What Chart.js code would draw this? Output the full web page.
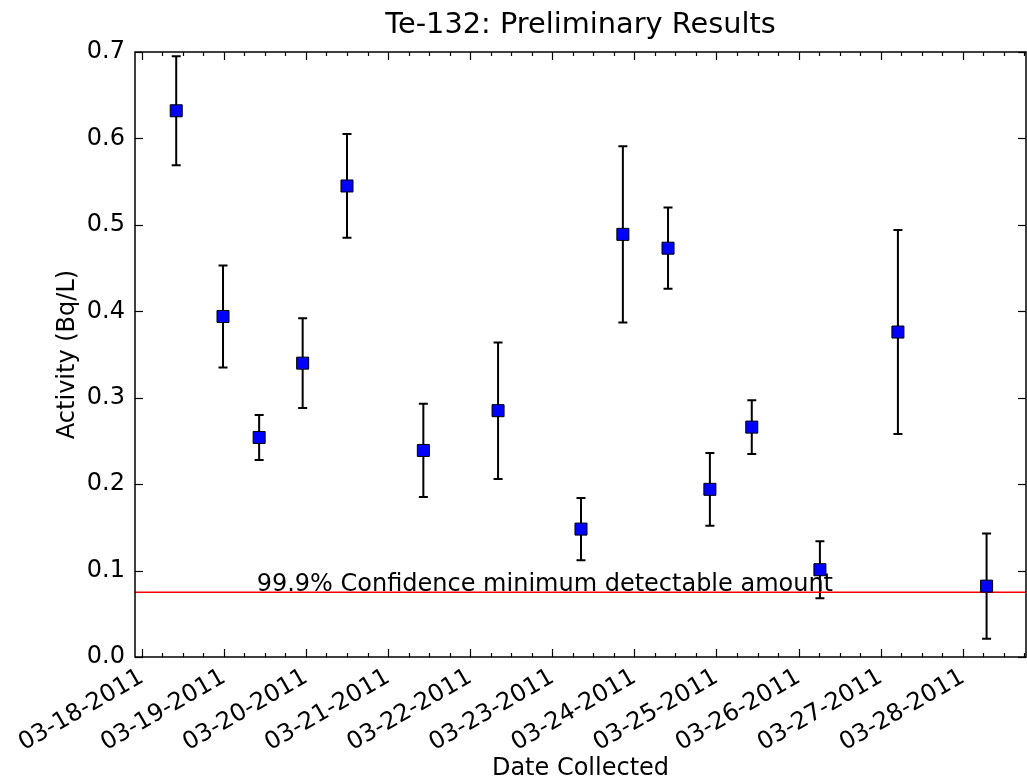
<!DOCTYPE html>
<html>
<head>
<meta charset="utf-8">
<title>Te-132: Preliminary Results</title>
<script src="https://cdn.jsdelivr.net/npm/chart.js@4.4.1/dist/chart.umd.min.js"></script>
<style>
  body { margin: 0; background: #fff; }
  #wrap { width: 1027px; height: 778px; }
</style>
</head>
<body>
<div id="wrap"><canvas id="te132" width="1027" height="778"></canvas></div>
<script>
// collection time of each sample, days after 03-18-2011 00:00
const sampleDays = [0.42, 0.99, 1.43, 1.96, 2.50, 3.43, 4.34, 5.35, 5.86, 6.41, 6.92, 7.43, 8.26, 9.21, 10.29];
// measured activity (Bq/L) and its uncertainty
const activity = [0.632, 0.394, 0.254, 0.340, 0.545, 0.239, 0.285, 0.148, 0.489, 0.473, 0.194, 0.266, 0.101, 0.376, 0.082];
const activityErr = [0.063, 0.059, 0.026, 0.052, 0.060, 0.054, 0.079, 0.036, 0.102, 0.047, 0.042, 0.031, 0.033, 0.118, 0.061];

const dateLabels = ['03-18-2011', '03-19-2011', '03-20-2011', '03-21-2011', '03-22-2011', '03-23-2011',
                    '03-24-2011', '03-25-2011', '03-26-2011', '03-27-2011', '03-28-2011'];
const yTicks = [0.0, 0.1, 0.2, 0.3, 0.4, 0.5, 0.6, 0.7];

const mda = 0.075;   // minimum detectable amount
const mdaText = '99.9% Confidence minimum detectable amount';
const mdaTextDay = 1.4;
const chartTitle = 'Te-132: Preliminary Results';

const xMin = -0.082, xMax = 10.77;
const textSize = 24;

Chart.defaults.font.family = '"DejaVu Sans", sans-serif';
Chart.defaults.color = '#000';

// error bars go under the markers
const errorBars = {
  id: 'errorBars',
  beforeDatasetsDraw(chart) {
    const { ctx, scales: { x, y } } = chart;
    ctx.save();
    ctx.strokeStyle = '#000';
    ctx.lineWidth = 2;
    sampleDays.forEach((d, i) => {
      const px = x.getPixelForValue(d);
      const top = y.getPixelForValue(activity[i] + activityErr[i]);
      const bot = y.getPixelForValue(activity[i] - activityErr[i]);
      ctx.beginPath();
      ctx.moveTo(px, top); ctx.lineTo(px, bot);
      ctx.moveTo(px - 4.5, top); ctx.lineTo(px + 4.5, top);
      ctx.moveTo(px - 4.5, bot); ctx.lineTo(px + 4.5, bot);
      ctx.stroke();
    });
    ctx.restore();
  },
  afterDatasetsDraw(chart) {
    const { ctx, scales: { x, y } } = chart;
    ctx.save();
    ctx.fillStyle = '#000';
    ctx.font = textSize + 'px "DejaVu Sans"';
    ctx.textAlign = 'left';
    ctx.textBaseline = 'alphabetic';
    ctx.fillText(mdaText, x.getPixelForValue(mdaTextDay), y.getPixelForValue(mda) - 1);
    ctx.restore();
  }
};

// matplotlib style box with inward ticks on all sides, plus the title
const frameTicks = {
  id: 'frameTicks',
  afterDraw(chart) {
    const { ctx, chartArea: a, scales: { x, y } } = chart;
    const line = (x1, y1, x2, y2) => { ctx.beginPath(); ctx.moveTo(x1, y1); ctx.lineTo(x2, y2); ctx.stroke(); };
    ctx.save();
    ctx.strokeStyle = '#000';
    ctx.lineWidth = 1.2;
    for (let q = Math.ceil(x.min * 4); q <= Math.floor(x.max * 4); q++) {
      const px = Math.round(x.getPixelForValue(q / 4)) + 0.5;
      const len = q % 4 === 0 ? 8 : 4;
      line(px, a.bottom, px, a.bottom - len);
      line(px, a.top, px, a.top + len);
    }
    yTicks.forEach(v => {
      const py = Math.round(y.getPixelForValue(v)) + 0.5;
      line(a.left, py, a.left + 8, py);
      line(a.right, py, a.right - 8, py);
    });
    ctx.lineWidth = 1.5;
    ctx.strokeRect(a.left, a.top, a.right - a.left, a.bottom - a.top);

    ctx.fillStyle = '#000';
    ctx.font = (textSize * 1.2) + 'px "DejaVu Sans"';
    ctx.textAlign = 'center';
    ctx.textBaseline = 'middle';
    ctx.fillText(chartTitle, (a.left + a.right) / 2, 26);
    ctx.restore();
  }
};

new Chart(document.getElementById('te132'), {
  type: 'scatter',
  data: {
    datasets: [
      {
        label: 'Te-132',
        data: sampleDays.map((d, i) => ({ x: d, y: activity[i] })),
        pointStyle: 'rect',
        pointRadius: 8.5,
        pointHoverRadius: 8.5,
        backgroundColor: '#0000ff',
        borderColor: '#000',
        borderWidth: 1
      },
      {
        label: 'MDA',
        data: [{ x: xMin, y: mda }, { x: xMax, y: mda }],
        showLine: true,
        pointRadius: 0,
        borderColor: '#ff0000',
        borderWidth: 1.5
      }
    ]
  },
  options: {
    responsive: false,
    animation: false,
    layout: { autoPadding: false, padding: { top: 52, right: 1, bottom: 0, left: 0 } },
    plugins: {
      legend: { display: false },
      tooltip: { enabled: false }
    },
    scales: {
      x: {
        type: 'linear',
        min: xMin,
        max: xMax,
        afterBuildTicks: s => { s.ticks = dateLabels.map((_, i) => ({ value: i })); },
        afterFit: s => { s.height = 121; s.paddingLeft = 0; s.paddingRight = 0; },
        grid: { display: false, drawTicks: false },
        border: { display: false },
        ticks: {
          autoSkip: false,
          minRotation: 30,
          maxRotation: 30,
          padding: 6,
          font: { size: textSize },
          callback: (v, i) => dateLabels[i]
        },
        title: { display: true, text: 'Date Collected', font: { size: textSize }, padding: { top: 0, bottom: -5 } }
      },
      y: {
        min: 0,
        max: 0.7,
        afterBuildTicks: s => { s.ticks = yTicks.map(v => ({ value: v })); },
        afterFit: s => { s.width = 135; },
        grid: { display: false, drawTicks: false },
        border: { display: false },
        ticks: {
          padding: 10,
          font: { size: textSize },
          callback: v => v.toFixed(1)
        },
        title: { display: true, text: 'Activity (Bq/L)', font: { size: textSize }, padding: { top: 53, bottom: 0 } }
      }
    }
  },
  plugins: [errorBars, frameTicks]
});
</script>
</body>
</html>
